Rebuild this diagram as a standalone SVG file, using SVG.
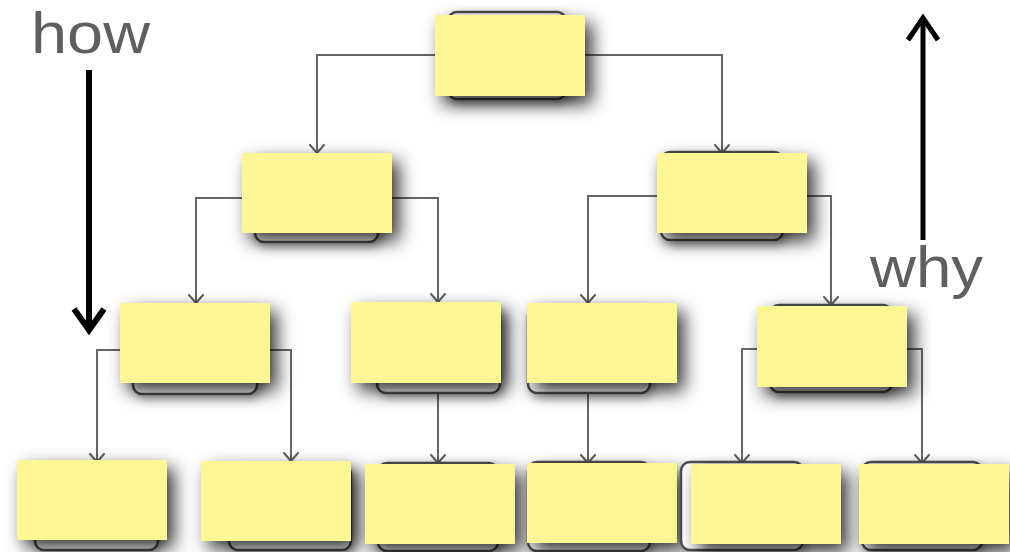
<svg xmlns="http://www.w3.org/2000/svg" width="1010" height="552" viewBox="0 0 1010 552">
<defs>
<filter id="sh" x="-30%" y="-40%" width="180%" height="210%">
<feDropShadow dx="7" dy="8" stdDeviation="9" flood-color="#000" flood-opacity="0.8"/>
</filter>
<filter id="sh2" x="-30%" y="-30%" width="170%" height="180%">
<feDropShadow dx="3" dy="4" stdDeviation="5" flood-color="#000" flood-opacity="0.35"/>
</filter>
<marker id="ah" viewBox="0 0 10 16" refX="9" refY="8" markerWidth="10" markerHeight="16" markerUnits="userSpaceOnUse" orient="auto">
<path d="M1,1 L9,8 L1,15" fill="none" stroke="#5f5f5f" stroke-width="2" stroke-linecap="round" stroke-linejoin="round"/>
</marker>
</defs>
<style>
.c{fill:none;stroke:#666;stroke-width:2;marker-end:url(#ah)}
.r{fill:#fff;stroke:#4d4d4d;stroke-width:2.5;filter:url(#sh2)}
.y{fill:#fdf694;filter:url(#sh)}
.lbl{font-family:"Liberation Sans",Arial,sans-serif;font-weight:400;fill:#5f5f5f}
.big{fill:none;stroke:#000;stroke-linecap:butt}
</style>
<rect width="1010" height="552" fill="#fff"/>
<g id="labels">
<text class="lbl" x="31" y="53" font-size="58" textLength="119" lengthAdjust="spacingAndGlyphs">how</text>
<text class="lbl" x="870" y="287" font-size="58" textLength="113" lengthAdjust="spacingAndGlyphs">why</text>
</g>
<g id="arrows">
<line class="big" x1="89" y1="70" x2="89" y2="330" stroke-width="6"/>
<path class="big" d="M74,309 L89,330 L104,309" stroke-width="6" stroke-linejoin="miter"/>
<line class="big" x1="923" y1="240" x2="923" y2="19" stroke-width="5"/>
<path class="big" d="M908,40 L923,18 L938,40" stroke-width="5" stroke-linejoin="miter"/>
</g>
<g id="connectors">
<path class="c" d="M435,55 H317 V153"/>
<path class="c" d="M585,55 H722 V153"/>
<path class="c" d="M242,198 H196 V303"/>
<path class="c" d="M391,198 H438 V302"/>
<path class="c" d="M657,196 H588 V303"/>
<path class="c" d="M807,196 H831 V305"/>
<path class="c" d="M120,350 H97 V462"/>
<path class="c" d="M270,350 H291 V461"/>
<path class="c" d="M438,393 V463"/>
<path class="c" d="M588,393 V463"/>
<path class="c" d="M757,349 H742 V463"/>
<path class="c" d="M907,349 H922 V463"/>
</g>
<g id="n1"><rect class="r" x="448" y="12" width="118" height="87" rx="9"/><rect class="y" x="435" y="15" width="150" height="81"/></g>
<g id="n2"><rect class="r" x="255" y="156" width="123" height="86" rx="9"/><rect class="y" x="242" y="153" width="150" height="80"/></g>
<g id="n3"><rect class="r" x="661" y="152" width="122" height="88" rx="9"/><rect class="y" x="657" y="153" width="150" height="80"/></g>
<g id="n4"><rect class="r" x="133" y="306" width="124" height="88" rx="9"/><rect class="y" x="120" y="303" width="150" height="80"/></g>
<g id="n5"><rect class="r" x="377" y="305" width="123" height="88" rx="9"/><rect class="y" x="351" y="302" width="150" height="81"/></g>
<g id="n6"><rect class="r" x="528" y="306" width="122" height="87" rx="9"/><rect class="y" x="527" y="303" width="150" height="80"/></g>
<g id="n7"><rect class="r" x="770" y="305" width="122" height="87" rx="9"/><rect class="y" x="757" y="306" width="150" height="81"/></g>
<g id="n8"><rect class="r" x="35" y="464" width="123" height="86" rx="9"/><rect class="y" x="17" y="460" width="150" height="80"/></g>
<g id="n9"><rect class="r" x="229" y="465" width="122" height="85" rx="9"/><rect class="y" x="201" y="461" width="150" height="80"/></g>
<g id="n10"><rect class="r" x="378" y="463" width="120" height="88" rx="9"/><rect class="y" x="365" y="464" width="150" height="80"/></g>
<g id="n11"><rect class="r" x="528" y="462" width="122" height="89" rx="9"/><rect class="y" x="527" y="463" width="150" height="80"/></g>
<g id="n12"><rect class="r" x="681" y="462" width="122" height="88" rx="9"/><rect class="y" x="691" y="464" width="150" height="80"/></g>
<g id="n13"><rect class="r" x="862" y="462" width="120" height="88" rx="9"/><rect class="y" x="859" y="464" width="150" height="80"/></g>
</svg>
